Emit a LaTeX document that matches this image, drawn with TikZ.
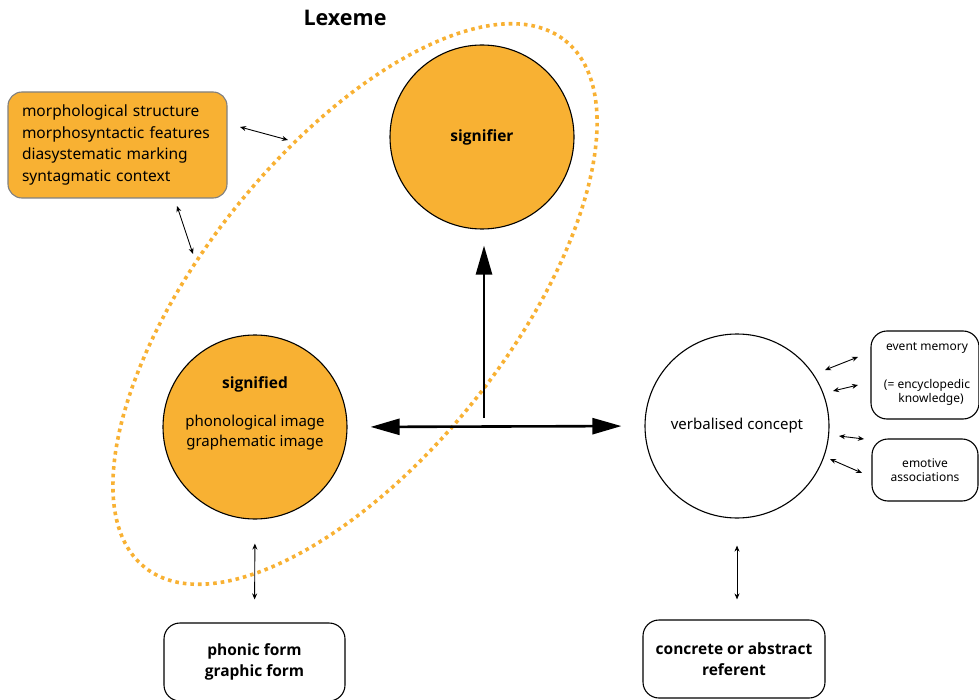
\documentclass[tikz,border=0pt]{standalone}
\usepackage{fontspec}
\setmainfont{Noto Sans}[BoldFont={Noto Sans}, BoldFeatures={FakeBold=2.5}]
\newfontfamily\osans{Open Sans}
\usetikzlibrary{arrows.meta}
\definecolor{lexor}{HTML}{F8B133}
\tikzset{
  circ/.style={circle, draw=black, line width=1.1pt, minimum size=184pt, inner sep=0pt, align=center},
  rbox/.style={draw=black, rounded corners=16pt, line width=1.1pt, align=center},
  small/.style={font=\fontsize{12}{14}\selectfont},
  bf/.style={font=\osans\bfseries\fontsize{#1}{21}\selectfont},
  dbl/.style={{Stealth[length=6pt,width=5pt]}-{Stealth[length=6pt,width=5pt]}, line width=0.9pt},
  big/.style={-{Triangle[length=29pt,width=16pt]}, line width=2.6pt},
  bigd/.style={{Triangle[length=29pt,width=16pt]}-{Triangle[length=29pt,width=16pt]}, line width=2.6pt},
}
\begin{document}
\begin{tikzpicture}[x=1pt,y=-1pt]
\useasboundingbox (0,0) rectangle (979,700);
% Lexeme ellipse
\draw[lexor, line width=3.6pt, dash pattern=on 3.6pt off 4pt, rotate around={51.4:(355,304)}]
  (355,304) ellipse [x radius=337, y radius=153.5];
\node[bf=21.5] (lex) at (345,18) {Lexeme};
% circles
\node[circ, fill=lexor, bf=15.5] (signifier) at (482,137) {signifier};
\node[circ, fill=lexor] (signified) at (255,427) {};
\node[bf=15.5] (sdlabel) at (255,384) {signified};
\node[align=center, font=\fontsize{15}{20}\selectfont] (sdtext) at (255,433) {phonological image\\graphematic image};
\node[circ, fill=white, font=\fontsize{15}{18}\selectfont] (concept) at (737,426) {verbalised concept};
% top-left box
\node[draw=gray, fill=lexor, rounded corners=14pt, line width=1.1pt, align=left,
      minimum width=219pt, minimum height=106pt, inner sep=0pt, text width=191pt,
      font=\fontsize{15.5}{21.5}\selectfont] (morph) at (117.5,145)
  {morphological structure\\morphosyntactic features\\diasystematic marking\\syntagmatic context};
% bottom boxes
\node[rbox, minimum width=181pt, minimum height=78pt, bf=15.5] (phonic) at (254.5,662) {phonic form\\graphic form};
\node[rbox, minimum width=182pt, minimum height=78pt, bf=15.5] (referent) at (734,659) {concrete or abstract\\referent};
% right boxes
\node[rbox, minimum width=108pt, minimum height=88pt, inner sep=0pt] (event) at (925,375) {};
\node[small] (evt1) at (927,348) {event memory};
\node[small, align=center] (evt2) at (927,392.5) {(= encyclopedic\\\hspace*{8pt}knowledge)};
\node[rbox, minimum width=106pt, minimum height=62pt, small, inner sep=0pt] (emotive) at (925,470) {emotive\\associations};
% big arrows
\coordinate (vbase) at (484,418);
\draw[big, shorten >=16pt] (vbase) -- (vbase |- signifier.south);
\draw[bigd, shorten <=23pt, shorten >=23pt] (signified.east) -- (concept.west);
% vertical connectors
\draw[dbl, shorten <=24pt, shorten >=23pt] (signified.south) -- (phonic.north);
\draw[dbl, shorten <=27pt, shorten >=20pt] (concept.south) -- (concept.south |- referent.north);
% small connectors
\coordinate (m1a) at (240,127); \coordinate (m1b) at (288,140);
\draw[dbl] (m1a) -- (m1b);
\coordinate (m2a) at (177,206); \coordinate (m2b) at (193,254);
\draw[dbl] (m2a) -- (m2b);
\coordinate (e1a) at (825,370); \coordinate (e1b) at (858,357);
\draw[dbl] (e1a) -- (e1b);
\coordinate (e2a) at (833,391); \coordinate (e2b) at (858,385);
\draw[dbl] (e2a) -- (e2b);
\coordinate (e3a) at (839,436); \coordinate (e3b) at (864,439);
\draw[dbl] (e3a) -- (e3b);
\coordinate (e4a) at (830,459); \coordinate (e4b) at (862,473);
\draw[dbl] (e4a) -- (e4b);
\end{tikzpicture}
\end{document}
